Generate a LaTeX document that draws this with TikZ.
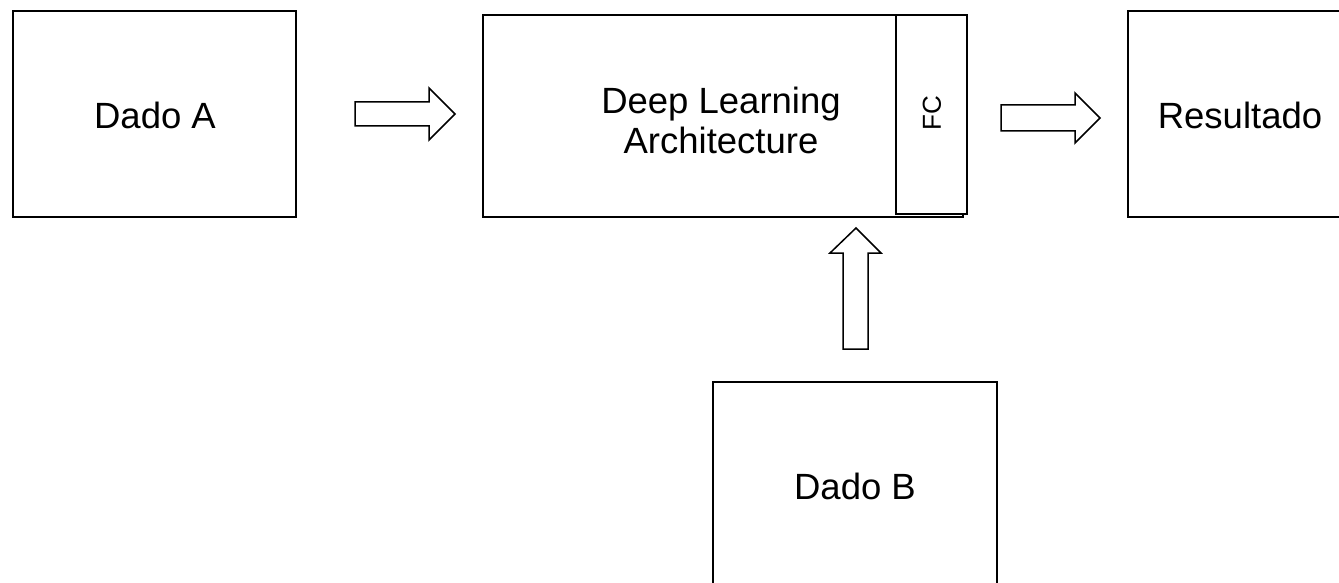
\documentclass[tikz,border=0pt]{standalone}
\usepackage{fontspec}
\setmainfont{Liberation Sans}
\begin{document}
\begin{tikzpicture}[x=1pt,y=-1pt,line width=1.5pt,
  box/.style={draw=black,fill=white,rectangle,inner sep=0pt},
  lbl/.style={font=\fontsize{36.5}{40}\selectfont,align=center,inner sep=0pt},
  blockarrow/.style={draw=black,fill=white,line width=1.5pt,line join=miter}]
\useasboundingbox (0,0) rectangle (1339,583);
\begin{scope}
\clip (0,0) rectangle (1339,583);
% boxes
\draw[box] (13,11) rectangle (296,217);
\node[lbl] (dadoA) at (155,115) {Dado A};
\draw[box] (483,15) rectangle (963,217);
\node[lbl] (dl) at (721,120) {Deep Learning\\Architecture};
\draw[box] (896,15) rectangle (967,214);
\node[font=\fontsize{26}{30}\selectfont,inner sep=0pt,rotate=90] (fc) at (932,113) {FC};
\draw[box] (1128,11) rectangle (1352,217);
\node[lbl] (res) at (1240,115) {Resultado};
\draw[box] (713,382) rectangle (997,600);
\node[lbl] (dadoB) at (855,486) {Dado B};
% block arrows
\draw[blockarrow] (355,102) -- (429,102) -- (429,88) -- (455,114) -- (429,140) -- (429,126) -- (355,126) -- cycle;
\draw[blockarrow] (1001,105) -- (1075,105) -- (1075,93) -- (1100,118) -- (1075,143) -- (1075,131) -- (1001,131) -- cycle;
\draw[blockarrow] (843,349) -- (843,253) -- (830,253) -- (856,228) -- (881,253) -- (868,253) -- (868,349) -- cycle;
\end{scope}
\end{tikzpicture}
\end{document}
